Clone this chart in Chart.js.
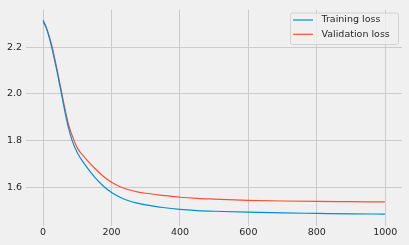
<!DOCTYPE html>
<html>
<head>
<meta charset="utf-8">
<script src="https://cdn.jsdelivr.net/npm/chart.js@4/dist/chart.umd.min.js"></script>
<style>
  html, body { margin: 0; padding: 0; background: #f0f0f0; }
  canvas { display: block; }
</style>
</head>
<body>
<canvas id="lossChart" width="409" height="245"></canvas>
<script>
// values
const epochs = [0, 10, 25, 40, 55, 65, 75, 85, 100, 125, 150, 175, 200, 225, 250, 275, 300, 350, 400, 450, 500, 600, 700, 800, 900, 999];
const trainLoss = [2.315, 2.28, 2.20, 2.10, 1.99, 1.915, 1.85, 1.80, 1.748, 1.692, 1.645, 1.607, 1.578, 1.558, 1.543, 1.533, 1.525, 1.514, 1.506, 1.501, 1.498, 1.494, 1.491, 1.489, 1.487, 1.486];
const valLoss = [2.306, 2.28, 2.21, 2.11, 2.00, 1.928, 1.865, 1.822, 1.769, 1.722, 1.683, 1.649, 1.622, 1.603, 1.590, 1.581, 1.575, 1.566, 1.558, 1.553, 1.550, 1.545, 1.542, 1.540, 1.539, 1.538];
const xTicks = [0, 200, 400, 600, 800, 1000];
const yTicks = [1.6, 1.8, 2.0, 2.2];
const seriesNames = ['Training loss', 'Validation loss'];
const seriesColors = ['#008fd5', '#fc4f30'];

const tickFont = { family: 'DejaVu Sans', size: 9.5 };
const gridColor = '#cbcbcb';

function toPoints(xs, ys) {
    return xs.map((x, i) => ({ x: x, y: ys[i] }));
}

// legend box in the top right corner, like matplotlib's
const legendBox = {
    id: 'legendBox',
    afterDraw(chart) {
        const ctx = chart.ctx;
        const x = 290, y = 12.5, w = 108, h = 31.5;
        ctx.save();
        ctx.beginPath();
        ctx.roundRect(x + 0.5, y + 0.5, w, h, 2);
        ctx.fillStyle = 'rgba(240,240,240,0.8)';
        ctx.fill();
        ctx.strokeStyle = '#d2d2d2';
        ctx.lineWidth = 1;
        ctx.stroke();
        ctx.font = '9.5px "DejaVu Sans"';
        ctx.textBaseline = 'middle';
        chart.data.datasets.forEach((ds, i) => {
            const rowY = 20 + i * 14.3;
            ctx.strokeStyle = ds.borderColor;
            ctx.lineWidth = 1.2;
            ctx.beginPath();
            ctx.moveTo(293, rowY);
            ctx.lineTo(313, rowY);
            ctx.stroke();
            ctx.fillStyle = '#262626';
            ctx.fillText(ds.label, 321.5, rowY);
        });
        ctx.restore();
    }
};

const ctx = document.getElementById('lossChart').getContext('2d');
const lossChart = new Chart(ctx, {
    type: 'line',
    data: {
        datasets: [
            {
                label: seriesNames[0],
                data: toPoints(epochs, trainLoss),
                borderColor: seriesColors[0],
                borderWidth: 1.2,
                pointRadius: 0,
                fill: false,
                cubicInterpolationMode: 'monotone'
            },
            {
                label: seriesNames[1],
                data: toPoints(epochs, valLoss),
                borderColor: seriesColors[1],
                borderWidth: 1.2,
                pointRadius: 0,
                fill: false,
                cubicInterpolationMode: 'monotone'
            }
        ]
    },
    options: {
        responsive: false,
        animation: false,
        devicePixelRatio: 1,
        layout: { padding: { left: 0, right: 7, top: 6, bottom: 0 } },
        plugins: {
            legend: { display: false },
            tooltip: { enabled: false }
        },
        scales: {
            x: {
                type: 'linear',
                min: -50,
                max: 1049,
                border: { display: false },
                grid: { color: gridColor, lineWidth: 1, drawTicks: false },
                ticks: { color: '#262626', font: tickFont, padding: 1, maxRotation: 0, callback: v => String(v) },
                afterBuildTicks: s => { s.ticks = xTicks.map(v => ({ value: v })); },
                afterFit: s => { s.height = 19; }
            },
            y: {
                type: 'linear',
                min: 1.435,
                max: 2.36,
                border: { display: false },
                grid: { color: gridColor, lineWidth: 1, drawTicks: false },
                ticks: {
                    color: '#262626',
                    font: tickFont,
                    padding: 4,
                    callback: v => v.toFixed(1)
                },
                afterBuildTicks: s => { s.ticks = yTicks.map(v => ({ value: v })); },
                afterFit: s => { s.width = 26; }
            }
        }
    },
    plugins: [legendBox]
});
</script>
</body>
</html>
